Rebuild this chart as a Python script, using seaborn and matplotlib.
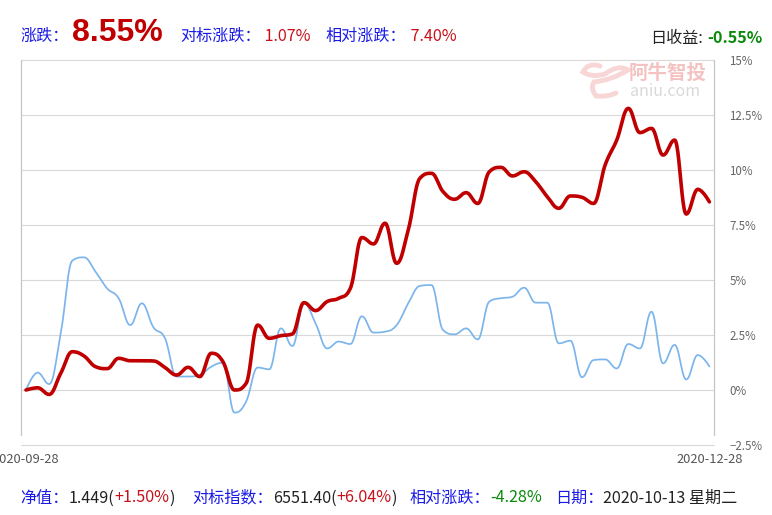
import numpy as np
import pandas as pd
import matplotlib
matplotlib.use("Agg")
import matplotlib.pyplot as plt
from matplotlib.lines import Line2D
from matplotlib.path import Path
from matplotlib.patches import PathPatch
import seaborn as sns

# ---------------- data (percent) ----------------
fund_ret = [0.0, 0.1, -0.2, 0.76, 1.74, 1.55, 1.06, 0.97, 1.44, 1.33,
            1.33, 1.32, 1.02, 0.68, 1.03, 0.61, 1.67, 1.29, 0.0, 0.3,
            2.95, 2.35, 2.47, 2.55, 3.97, 3.61, 4.02, 4.17, 4.62, 6.93,
            6.64, 7.58, 5.76, 7.27, 9.62, 9.85, 9.02, 8.67, 8.97, 8.48,
            9.92, 10.12, 9.73, 9.92, 9.47, 8.79, 8.26, 8.82, 8.76, 8.48,
            10.23, 11.36, 12.8, 11.7, 11.89, 10.68, 11.36, 8.0, 9.12, 8.55]
bench_ret = [0.0, 0.79, 0.27, 2.58, 5.88, 6.03, 5.38, 4.62, 4.17, 2.95,
             3.94, 2.85, 2.35, 0.61, 0.61, 0.68, 1.06, 1.24, -1.03, -0.53,
             1.02, 0.94, 2.8, 2.0, 3.94, 3.03, 1.89, 2.2, 2.09, 3.35,
             2.61, 2.65, 2.95, 3.94, 4.73, 4.77, 2.73, 2.53, 2.8, 2.3,
             4.02, 4.17, 4.24, 4.65, 3.97, 3.97, 2.12, 2.24, 0.58, 1.36,
             1.39, 0.98, 2.09, 1.89, 3.56, 1.21, 2.05, 0.48, 1.59, 1.07]
x_labels = ["2020-09-28", "2020-12-28"]
y_ticks = [-2.5, 0, 2.5, 5, 7.5, 10, 12.5, 15]
y_labels = ["\u22122.5%", "0%", "2.5%", "5%", "7.5%", "10%", "12.5%", "15%"]

header_main = "8.55%"
header_bench = "1.07%"
header_rel = "7.40%"
header_day = "-0.55%"
footer_nav = "1.449"
footer_nav_chg = "+1.50%"
footer_idx = "6551.40"
footer_idx_chg = "+6.04%"
footer_rel = "-4.28%"
footer_date = "2020-10-13 星期二"


def hc_spline(vals, n=24):
    """Highcharts-style spline smoothing (smoothing=1.5) through the points."""
    y = np.asarray(vals, dtype=float)
    N = len(y)
    x = np.arange(N, dtype=float)
    lcx = x.copy(); lcy = y.copy(); rcx = x.copy(); rcy = y.copy()
    s = 1.5; d = s + 1
    for i in range(1, N - 1):
        lx = (s * x[i] + x[i - 1]) / d
        ly = (s * y[i] + y[i - 1]) / d
        rx = (s * x[i] + x[i + 1]) / d
        ry = (s * y[i] + y[i + 1]) / d
        corr = ((ry - ly) * (rx - x[i])) / (rx - lx) + y[i] - ry
        ly += corr; ry += corr
        if ly > y[i - 1] and ly > y[i]:
            ly = max(y[i - 1], y[i]); ry = 2 * y[i] - ly
        elif ly < y[i - 1] and ly < y[i]:
            ly = min(y[i - 1], y[i]); ry = 2 * y[i] - ly
        if ry > y[i + 1] and ry > y[i]:
            ry = max(y[i + 1], y[i]); ly = 2 * y[i] - ry
        elif ry < y[i + 1] and ry < y[i]:
            ry = min(y[i + 1], y[i]); ly = 2 * y[i] - ry
        lcx[i], lcy[i], rcx[i], rcy[i] = lx, ly, rx, ry
    t = np.linspace(0, 1, n)[:, None]
    xs, ys = [x[:1]], [y[:1]]
    for i in range(1, N):
        P = np.array([[x[i - 1], y[i - 1]], [rcx[i - 1], rcy[i - 1]],
                      [lcx[i], lcy[i]], [x[i], y[i]]])
        B = ((1 - t) ** 3) * P[0] + 3 * ((1 - t) ** 2) * t * P[1] + \
            3 * (1 - t) * t ** 2 * P[2] + t ** 3 * P[3]
        xs.append(B[1:, 0]); ys.append(B[1:, 1])
    return np.concatenate(xs), np.concatenate(ys)


sns.set_theme(style="white")
plt.rcParams["font.family"] = ["Noto Sans CJK SC", "DejaVu Sans"]
plt.rcParams["axes.unicode_minus"] = True

W, H = 772, 515
fig = plt.figure(figsize=(W / 100, H / 100), dpi=100)
L, R, T, B = 20.7, 714.0, 60.0, 445.0
ax = fig.add_axes([L / W, 1 - B / H, (R - L) / W, (B - T) / H])

bx, by = hc_spline(bench_ret)
fx, fy = hc_spline(fund_ret)
df_b = pd.DataFrame({"x": bx, "y": by})
df_f = pd.DataFrame({"x": fx, "y": fy})
sns.lineplot(data=df_b, x="x", y="y", ax=ax, color="#7cb5ec", lw=1.25,
             sort=False, estimator=None, zorder=3)
sns.lineplot(data=df_f, x="x", y="y", ax=ax, color="#c00000", lw=2.6,
             sort=False, estimator=None, zorder=4, solid_capstyle="round")

n = len(fund_ret)
span = (709.4 - 26.0) / (n - 1)
ax.set_xlim(-(26.0 - L) / span, (n - 1) + (R - 709.4) / span)
ax.set_ylim(-2.5, 15)

ax.set_xticks([0, n - 1])
ax.set_xticklabels(x_labels)
ax.set_yticks(y_ticks)
ax.set_yticklabels(y_labels)
ax.yaxis.tick_right()
ax.tick_params(axis="y", length=0, pad=11, labelsize=8.3, labelcolor="#666666")
ax.tick_params(axis="x", length=0, pad=6, labelsize=9.3, labelcolor="#555555")
ax.set_xlabel(""); ax.set_ylabel("")

ax.grid(axis="y", color="#d9d9d9", lw=0.8)
ax.grid(axis="x", visible=False)
for gl in ax.get_ygridlines():
    gl.set_clip_on(False)
for sp in ax.spines.values():
    sp.set_visible(False)
for xa in (0, 1):
    ax.add_line(Line2D([xa, xa], [10 / 385, 1], transform=ax.transAxes,
                       color="#c6c6c6", lw=0.9, clip_on=False, zorder=1))

renderer = fig.canvas.get_renderer()


def ftext(x, y, s, **kw):
    return fig.text(x / W, 1 - y / H, s, va="center", ha="left", **kw)


def seq(x, y, parts, fs=11.6):
    """Place text pieces one after another starting at pixel x."""
    for s, col, extra in parts:
        t = ftext(x, y, s, fontsize=fs, color=col, **extra)
        bb = t.get_window_extent(renderer)
        x += bb.width


BLUE = "#1a1ae6"; RED = "#c8101a"; GREEN = "#0a8a0a"; BLACK = "#222222"

# watermark
ftext(629, 73, "阿牛智投", fontsize=14, color="#f5c2c2", fontweight="bold")
ftext(630, 92, "aniu.com", fontsize=11.5, color="#d9d9d9")
verts = [(600, 66), (588, 62), (583, 72), (592, 78), (605, 74), (618, 64), (628, 70),
         (612, 80), (594, 82), (590, 88), (596, 96), (608, 97), (616, 93)]
pv = [(vx / W, 1 - vy / H) for vx, vy in verts]
codes = [Path.MOVETO] + [Path.CURVE3] * (len(pv) - 1)
if (len(pv) - 1) % 2:
    pv = pv[:-1]; codes = codes[:-1]
fig.patches.append(PathPatch(Path(pv, codes[:len(pv)]), transform=fig.transFigure,
                             fill=False, lw=3.5, edgecolor="#f9d6d6", capstyle="round"))

# header
ftext(20, 36, "涨跌：", fontsize=11.6, color=BLUE)
ftext(72, 33, header_main, fontsize=23, color="#c00000", fontweight="bold",
      family=["Liberation Sans"])
seq(180, 36, [("对标涨跌：", BLUE, {}), (" " + header_bench, RED, {})])
seq(326, 36, [("相对涨跌：", BLUE, {}), (" " + header_rel, RED, {})])
fig.text(763 / W, 1 - 38 / H, header_day, va="center", ha="right", fontsize=11.6,
         color=GREEN, fontweight="bold")
fig.text(703 / W, 1 - 38 / H, "日收益:", va="center", ha="right", fontsize=11.6,
         color=BLACK)

# footer
fy0 = 498
seq(20, fy0, [("净值：", BLUE, {}), (footer_nav + "(", BLACK, {}),
              (footer_nav_chg, RED, {}), (")", BLACK, {})])
seq(192, fy0, [("对标指数：", BLUE, {}), (footer_idx + "(", BLACK, {}),
               (footer_idx_chg, RED, {}), (")", BLACK, {})])
seq(410, fy0, [("相对涨跌：", BLUE, {}), (footer_rel, GREEN, {})])
seq(555, fy0, [("日期：", BLUE, {}), (footer_date, BLACK, {})])

fig.savefig("out.png", dpi=100)
